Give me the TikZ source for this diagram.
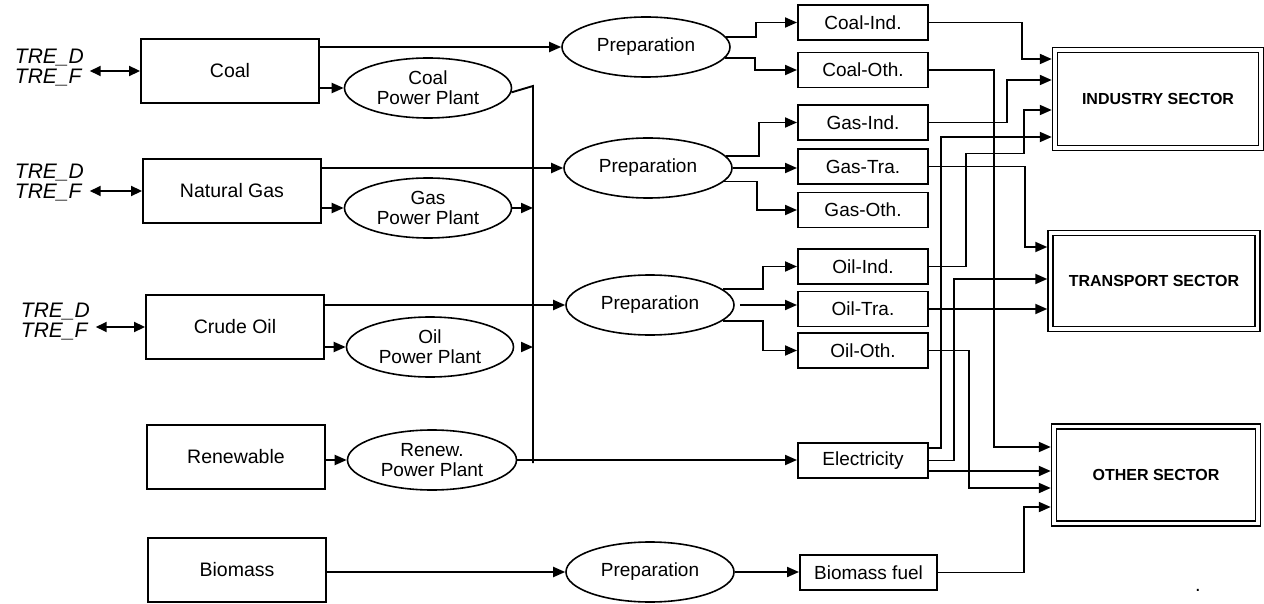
\documentclass[tikz,border=0pt]{standalone}
\usepackage{fontspec}
\setmainfont{Liberation Sans}
\usetikzlibrary{calc,positioning,arrows.meta,shapes.geometric}

\begin{document}
\begin{tikzpicture}[
  % one unit = one pixel of the layout, y runs downwards
  x=1pt, y=-1pt,
  line width=1.9pt,
  srcbox/.style={
    rectangle, draw, minimum width=178pt, minimum height=64pt,
    inner sep=0pt, font=\fontsize{19.5}{20}\selectfont
  },
  plant/.style={
    ellipse, draw, line width=1.6pt,
    minimum width=167pt, minimum height=60pt,
    inner sep=0pt, align=center, font=\fontsize{19}{20}\selectfont
  },
  outbox/.style={
    rectangle, draw, minimum width=130pt, minimum height=35pt,
    inner sep=0pt, font=\fontsize{19}{20}\selectfont
  },
  sector/.style={
    rectangle, draw, double, double distance=3.2pt, line width=1.6pt,
    outer sep=3.2pt, inner sep=0pt,
    font=\bfseries\fontsize{16}{18}\selectfont
  },
  tre/.style={align=left, inner sep=2pt, font=\itshape\fontsize{21}{20}\selectfont},
  flow/.style={-{Triangle[length=12pt,width=10pt]}},
  biflow/.style={{Triangle[length=11pt,width=10pt]}-{Triangle[length=11pt,width=10pt]}},
]
\useasboundingbox (0,0) rectangle (1264,604);

% --- Primary sources ---
\foreach \nm/\txt/\xx/\yy in {coal/Coal/230/71, ngas/Natural Gas/232/191,
    crude/Crude Oil/235/327, renew/Renewable/236/457, bio/Biomass/237/570} {
  \node[srcbox] (\nm) at (\xx,\yy) {\txt};
}

% --- Trade (TRE) links ---
\foreach \nm/\xx/\yy in {coal/12/68, ngas/12/183, crude/18/322} {
  \node[tre, anchor=west] (tre-\nm) at (\xx,\yy) {TRE\_D\\TRE\_F};
  \draw[biflow] ([xshift=3pt]tre-\nm.east |- \nm.west) -- (\nm.west);
}

% --- Power plants ---
\node[plant] (cpp) at (428,88)  {Coal\\Power Plant};
\node[plant] (gpp) at (428,208) {Gas\\Power Plant};
\node[plant] (opp) at (430,347) {Oil\\Power Plant};
\node[plant, minimum width=169pt] (rpp) at (432,460) {Renew.\\Power Plant};

% --- Preparation ---
\node[plant, minimum width=168pt] (cprep) at (646,47)  {Preparation};
\node[plant, minimum width=168pt] (gprep) at (648,168) {Preparation};
\node[plant, minimum width=168pt] (oprep) at (650,305) {Preparation};
\node[plant, minimum width=168pt] (bprep) at (650,572) {Preparation};

% --- Final energy carriers ---
\foreach \nm/\txt/\yy in {cind/Coal-Ind./22.5, coth/Coal-Oth./70,
    gind/Gas-Ind./122.5, gtra/Gas-Tra./166.5, goth/Gas-Oth./210,
    oind/Oil-Ind./266.5, otra/Oil-Tra./309, ooth/Oil-Oth./350.5,
    elec/Electricity/460.5} {
  \node[outbox] (\nm) at (863,\yy) {\txt};
}
\node[outbox, minimum width=137pt, inner sep=0pt] (bfuel) at (868.5,572.5) {Biomass fuel};

% --- Demand sectors ---
\node[sector, minimum width=206pt, minimum height=98pt] (ind) at (1158,99) {INDUSTRY SECTOR};
\node[sector, minimum width=207pt, minimum height=96pt] (tra) at (1154,281) {TRANSPORT SECTOR};
\node[sector, minimum width=204pt, minimum height=97pt] (oth) at (1156,475) {OTHER SECTOR};
\node[inner sep=0pt, font=\fontsize{20}{20}\selectfont] (dot) at (1198,590) {.};

% input ports of the sectors
\coordinate (ind1) at ([yshift=40pt]ind.west);
\coordinate (ind2) at ([yshift=19pt]ind.west);
\coordinate (ind3) at ([yshift=-11pt]ind.west);
\coordinate (ind4) at ([yshift=-38pt]ind.west);
\coordinate (tra1) at ([yshift=34pt]tra.west);
\coordinate (tra2) at ([yshift=2pt]tra.west);
\coordinate (oth1) at ([yshift=28pt]oth.west);
\coordinate (oth3) at ([yshift=-13pt]oth.west);
\coordinate (oth4) at ([yshift=-32pt]oth.west);
% outputs of electricity
\coordinate (elec1) at ([yshift=12.5pt]elec.east);
\coordinate (elec2) at (elec.east);
\coordinate (elec3) at ([yshift=-10.5pt]elec.east);

% --- Sources to preparation and plants ---
\foreach \src/\dst in {coal/cprep, ngas/gprep, crude/oprep, bio/bprep,
    coal/cpp, ngas/gpp, crude/opp, renew/rpp} {
  \draw[flow] (\src.east |- \dst.west) -- (\dst.west);
}

% --- Plants to electricity ---
\coordinate (bus top) at (533,86);
\coordinate (bus bot) at (533,463);
\draw (cpp.-3) -- (bus top) -- (bus bot);
\draw[flow] (gpp.east) -- (gpp.east -| bus top);
\draw[flow] ([xshift=9pt]opp.east) -- (opp.east -| bus top);
\draw[flow] (rpp.east) -- (rpp.east -| elec.west);

% --- Preparation to carriers ---
\draw[flow] (cprep.7) -- ++(30,0) |- (cind.west);
\draw[flow] (cprep.-8) -- ++(30,0) |- (coth.west);
\draw[flow] (gprep.9) -- ++(33,0) |- (gind.west);
\draw[flow] (gprep.east) -- (gprep.east -| gtra.west);
\draw[flow] (gprep.-10) -- ++(33,0) |- (goth.west);
\draw[flow] (oprep.12) -- ++(40,0) |- (oind.west);
\draw[flow] ([xshift=5pt]oprep.east) -- (oprep.east -| otra.west);
\draw[flow] (oprep.-12) -- ++(40,0) |- (ooth.west);
\draw[flow] (bprep.east) -- (bprep.east -| bfuel.west);

% --- Carriers to sectors ---
\draw[flow] (cind.east) -- ++(93,0) |- (ind1);
\draw[flow] (gind.east) -- ++(78,0) |- (ind2);
\draw[flow] (oind.east) -- ++(37,0) -- ++(0,-113) -- ++(58,0) |- (ind3);
\draw[flow] (elec1) -- ++(12,0) |- (ind4);
\draw[flow] (gtra.east) -- ++(96,0) |- (tra1);
\draw[flow] (elec2) -- ++(25,0) |- (tra2);
\draw[flow] (otra.east) -- (otra.east -| tra.west);
\draw[flow] (coth.east) -- ++(65,0) |- (oth1);
\draw[flow] (elec3) -- (elec3 -| oth.west);
\draw[flow] (ooth.east) -- ++(40,0) |- (oth3);
\draw[flow] (bfuel.east) -- ++(86,0) |- (oth4);

\end{tikzpicture}
\end{document}
